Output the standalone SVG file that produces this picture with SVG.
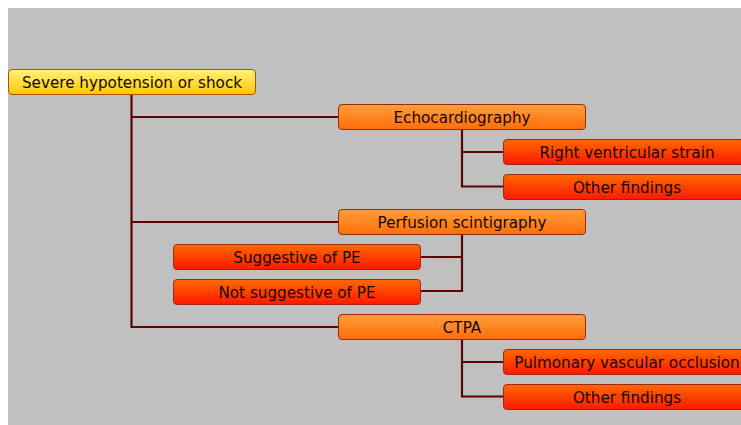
<svg xmlns="http://www.w3.org/2000/svg" width="741" height="425" viewBox="0 0 741 425">
<defs>
<linearGradient id="gY" x1="0" y1="0" x2="0" y2="1"><stop offset="0" stop-color="#fff27a"/><stop offset="1" stop-color="#ffc600"/></linearGradient>
<linearGradient id="gO" x1="0" y1="0" x2="0" y2="1"><stop offset="0" stop-color="#ff9d3c"/><stop offset="1" stop-color="#ff6e0a"/></linearGradient>
<linearGradient id="gR" x1="0" y1="0" x2="0" y2="1"><stop offset="0" stop-color="#ff6a00"/><stop offset="1" stop-color="#ff1800"/></linearGradient>
<style>
.box{stroke:#9c2a10;stroke-width:1}
.y{fill:url(#gY);stroke:#b05010}
.o{fill:url(#gO)}
.r{fill:url(#gR)}
text{font-family:"DejaVu Sans",Verdana,sans-serif;font-size:15.2px;fill:#140800;text-anchor:middle;dominant-baseline:central}
.c{fill:none;stroke:#5c0404;stroke-width:2.2}
</style>
</defs>
<rect width="741" height="425" fill="#ffffff"/>
<rect x="8" y="8" width="733" height="417" fill="#c0c0c0"/>
<g id="connectors">
<path class="c" d="M131.5 94 V327 H338 M131.5 117 H338 M131.5 222 H338"/>
<path class="c" d="M462 129 V186.5 H503 M462 152 H503"/>
<path class="c" d="M462 234 V291 H420 M462 257 H420"/>
<path class="c" d="M462 339 V396.5 H503 M462 362 H503"/>
</g>
<g id="root"><rect class="box y" x="8.5" y="69.5" width="247" height="25" rx="3.5"/><text x="132" y="83">Severe hypotension or shock</text></g>
<g id="echo"><rect class="box o" x="338.5" y="104.5" width="247" height="25" rx="3.5"/><text x="462" y="118">Echocardiography</text></g>
<g id="rvs"><rect class="box r" x="503.5" y="139.5" width="247" height="25" rx="3.5"/><text x="627" y="153">Right ventricular strain</text></g>
<g id="other1"><rect class="box r" x="503.5" y="174.5" width="247" height="25" rx="3.5"/><text x="627" y="188">Other findings</text></g>
<g id="perf"><rect class="box o" x="338.5" y="209.5" width="247" height="25" rx="3.5"/><text x="462" y="223">Perfusion scintigraphy</text></g>
<g id="sugg"><rect class="box r" x="173.5" y="244.5" width="247" height="25" rx="3.5"/><text x="297" y="258">Suggestive of PE</text></g>
<g id="notsugg"><rect class="box r" x="173.5" y="279.5" width="247" height="25" rx="3.5"/><text x="297" y="293">Not suggestive of PE</text></g>
<g id="ctpa"><rect class="box o" x="338.5" y="314.5" width="247" height="25" rx="3.5"/><text x="462" y="328">CTPA</text></g>
<g id="pvo"><rect class="box r" x="503.5" y="349.5" width="247" height="25" rx="3.5"/><text x="627" y="363">Pulmonary vascular occlusion</text></g>
<g id="other2"><rect class="box r" x="503.5" y="384.5" width="247" height="25" rx="3.5"/><text x="627" y="398">Other findings</text></g>
</svg>
